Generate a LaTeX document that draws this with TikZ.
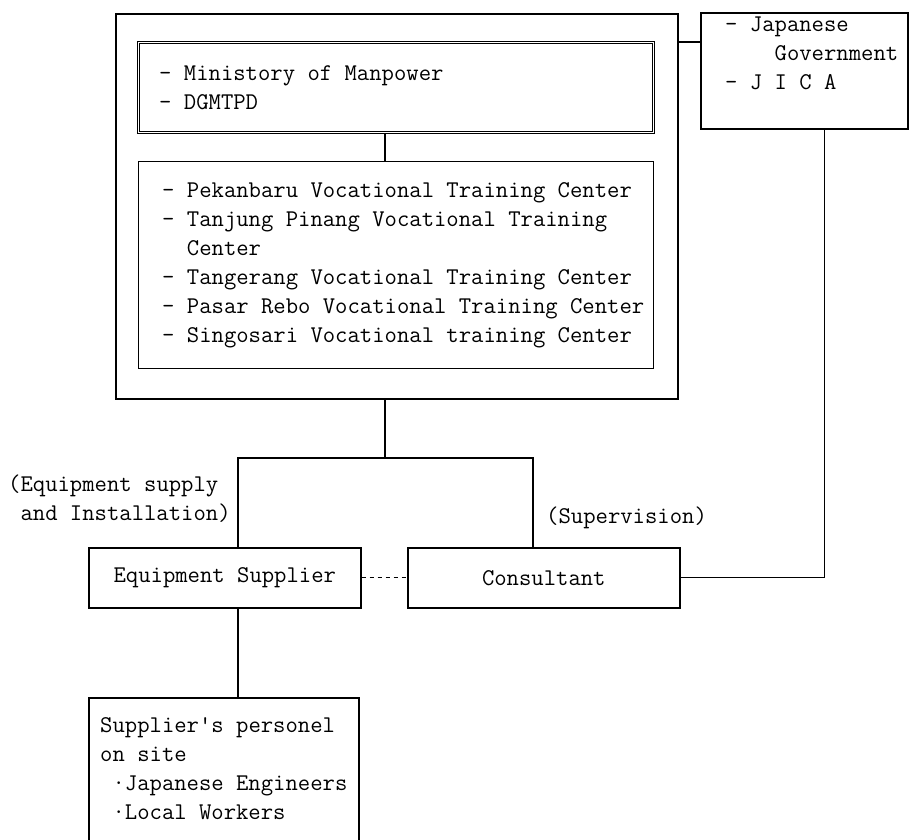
\documentclass[tikz,border=0pt]{standalone}
\usepackage{fontspec}
\usepackage{tikz}
\tikzset{
    frame-box/.style = {draw, rectangle, line width=1.6pt, inner sep=0pt},
    main-frame/.style = {frame-box, line width=2.4pt},
    double-box/.style = {draw, rectangle, double, line width=0.8pt, double distance=1.6pt, inner sep=0pt},
    box-text/.style = {font=\ttfamily\fontsize{24}{29}\selectfont, align=left, inner sep=0pt},
    link/.style = {line width=1.2pt},
}

\begin{document}
\begin{tikzpicture}[x=1pt, y=-1pt]
\clip (0,0) rectangle (913,840);
% executing side
\node [main-frame, minimum width=562pt, minimum height=385pt, anchor=north west] (mgmt) at (115,13) {};
\node [double-box, minimum width=515pt, minimum height=90pt, anchor=north west] (ministry) at (138,42) {};
\node [box-text, anchor=west] (ministry-text) at ([xshift=21pt]ministry.west) {- Ministory of Manpower\\- DGMTPD};
\node [frame-box, line width=1.2pt, minimum width=515pt, minimum height=207pt, anchor=north west] (centers) at (138,161) {};
\node [box-text, anchor=west] (centers-text) at ([xshift=24pt]centers.west) {- Pekanbaru Vocational Training Center\\- Tanjung Pinang Vocational Training\\\hphantom{- }Center\\- Tangerang Vocational Training Center\\- Pasar Rebo Vocational Training Center\\- Singosari Vocational training Center};
% japanese side
\node [frame-box, minimum width=207pt, minimum height=116pt, anchor=north west] (gov) at (700,12) {};
\node [box-text, anchor=north west] (gov-text) at ([xshift=25pt, yshift=-5pt]gov.north west) {- Japanese\\\hphantom{xxxx}Government\\- J I C A};
% contractors
\node [box-text, anchor=west] (supply-label) at (8,499) {(Equipment supply\\\hphantom{(}and Installation)};
\node [box-text, anchor=west] (supervision-label) at (546,518) {(Supervision)};
\node [frame-box, box-text, minimum width=272pt, minimum height=60pt, anchor=north west] (supplier) at (88,547) {Equipment Supplier};
\node [frame-box, box-text, minimum width=272pt, minimum height=60pt, anchor=north west] (consultant) at (407,547) {Consultant};
\node [frame-box, minimum width=270pt, minimum height=150pt, anchor=north west] (personnel) at (88,697) {};
\node [box-text, anchor=north west] (personnel-text) at ([xshift=12pt, yshift=-20pt]personnel.north west) {Supplier's personel\\on site\\\hphantom{x}·Japanese Engineers\\\hphantom{x}·Local Workers};
% connectors
\coordinate (spine) at (385,458);
\coordinate (left-drop) at (238,458);
\coordinate (right-drop) at (533,458);
\draw [link] (ministry.south -| spine) -- (centers.north -| spine);
\draw [link] (mgmt.east |- ministry.north) -- (gov.west |- ministry.north);
\draw [link] (mgmt.south -| spine) -- (spine);
\draw [link] (supplier.north -| left-drop) -- (left-drop) -- (right-drop) -- (consultant.north -| right-drop);
\draw [link, dash pattern=on 4pt off 4pt] (supplier.east) -- (consultant.west);
\draw [link] (consultant.east) -| ([xshift=20pt]gov.south);
\draw [link] (supplier.south -| left-drop) -- (personnel.north -| left-drop);
\end{tikzpicture}
\end{document}
